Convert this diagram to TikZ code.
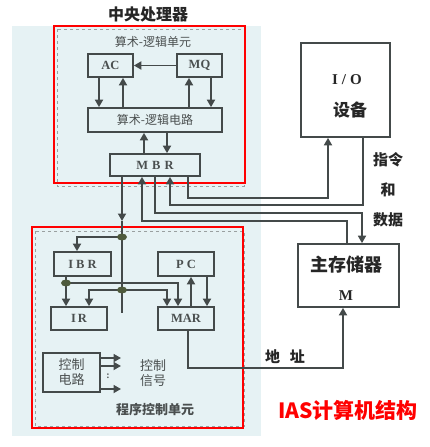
\documentclass[tikz,border=0pt]{standalone}
\usepackage{fontspec}
\setmainfont{Liberation Serif}
\newfontfamily\cjk{Noto Sans CJK SC}
\usetikzlibrary{arrows.meta,shapes.geometric}
\definecolor{lc}{HTML}{444A4A}
\definecolor{bgc}{HTML}{E6F2F4}
\definecolor{tc}{HTML}{4A4F4F}
\definecolor{dg}{HTML}{9AA0A0}
\definecolor{dotc}{HTML}{4E5A3C}
\tikzset{
  ln/.style={draw=lc, line width=1.7pt},
  arr/.style={ln, -{Triangle[length=7.5pt,width=8pt]}},
  blk/.style={draw=lc, line width=1.7pt, inner sep=0pt, text=tc, font=\bfseries\fontsize{12.5}{12.5}\selectfont},
  cn/.style={font=\cjk\fontsize{12}{14}\selectfont, text=tc, align=center},
  lab/.style={font=\cjk\bfseries\fontsize{15}{15}\selectfont, text=black!85},
  bus/.style={fill=dotc, ellipse, inner sep=0pt, minimum width=10pt, minimum height=7pt},
}
\begin{document}
\begin{tikzpicture}[x=1pt,y=-1pt]
\useasboundingbox (0,0) rectangle (430,447);
% background
\fill[bgc] (12,26) rectangle (261,436);
\node[font=\cjk\bfseries\fontsize{16}{16}\selectfont, text=black!85] (title) at (148,14) {中央处理器};
% frames
\draw[dg, dashed, line width=0.8pt] (57,29) rectangle (244,186);
\draw[dg, dashed, line width=0.8pt] (35,231) rectangle (244,426);
\draw[red, line width=2pt] (54,26) rectangle (245,183);
\draw[red, line width=2pt] (32,227) rectangle (243,428);
% arithmetic logic unit
\node[cn] (alut) at (153,42) {算术-逻辑单元};
\node[blk, minimum width=45pt, minimum height=23pt] (ac) at (110.5,65.5) {AC};
\node[blk, minimum width=45pt, minimum height=23pt] (mq) at (199.5,65.5) {MQ};
\node[blk, minimum width=134pt, minimum height=24pt, font=\cjk\fontsize{12}{12}\selectfont] (alu) at (155,120) {算术-逻辑电路};
\node[blk, minimum width=90pt, minimum height=22pt] (mbr) at (155,165) {M\hspace{4pt}B\hspace{4pt}R};
\draw[arr] (mq.west) -- (ac.east);
\draw[arr] (99,0 |- ac.south) -- (99,0 |- alu.north);
\draw[arr] (123,0 |- alu.north) -- (123,0 |- ac.south);
\draw[arr] (189,0 |- alu.north) -- (189,0 |- mq.south);
\draw[arr] (211,0 |- mq.south) -- (211,0 |- alu.north);
\draw[arr] (144,0 |- mbr.north) -- (144,0 |- alu.south);
\draw[arr] (167,0 |- alu.south) -- (167,0 |- mbr.north);
% IO and memory
\node[draw=lc, line width=1.7pt, minimum width=89pt, minimum height=94pt, inner sep=0pt] (io) at (345.5,90) {};
\node[font=\bfseries\fontsize{15}{15}\selectfont, text=black!85] (iot) at (347,80) {I\hspace{4pt}/\hspace{4pt}O};
\node[lab, font=\cjk\bfseries\fontsize{17}{17}\selectfont] (iot2) at (350,110) {设备};
\node[draw=lc, line width=1.7pt, minimum width=101pt, minimum height=63pt, inner sep=0pt] (mem) at (348.5,275.5) {};
\node[lab, font=\cjk\bfseries\fontsize{18}{18}\selectfont] (memt) at (346,265) {主存储器};
\node[font=\bfseries\fontsize{15}{15}\selectfont, text=black!85] (memm) at (346,296) {M};
\node[lab] (l1) at (388,160) {指令};
\node[lab] (l2) at (388,190) {和};
\node[lab] (l3) at (388,220) {数据};
\node[lab] (l4) at (285,357) {地\hspace{10pt}址};
% MBR connections
\draw[arr] (347,0 |- mem.north) -- (347,221) -- (142,221) -- (142,0 |- mbr.south);
\draw[arr] (155,0 |- mbr.south) -- (155,213) -- (362,213) -- (362,0 |- mem.north);
\draw[arr] (363,0 |- io.south) -- (363,205) -- (170,205) -- (170,0 |- mbr.south);
\draw[arr] (188,0 |- mbr.south) -- (188,198) -- (328,198) -- (328,0 |- io.south);
% program control unit
\node[blk, minimum width=57pt, minimum height=24pt] (ibr) at (82.5,264) {I\hspace{3pt}B\hspace{3pt}R};
\node[blk, minimum width=56pt, minimum height=24pt] (pc) at (186,264) {P\hspace{3pt}C};
\node[blk, minimum width=56pt, minimum height=23pt] (ir) at (79,318.5) {I\hspace{2pt}R};
\node[blk, minimum width=56pt, minimum height=23pt] (mar) at (186,318.5) {MAR};
\node[blk, minimum width=57pt, minimum height=39pt, font=\cjk\fontsize{13}{15}\selectfont, align=center] (ctl) at (71.5,372.5) {控制\\电路};
\node[cn, font=\cjk\fontsize{13}{15}\selectfont] (sig) at (153,373) {控制\\信号};
\node[cn, font=\cjk\bfseries\fontsize{13}{13}\selectfont] (pcu) at (155,410) {程序控制单元};
\coordinate (d1) at (122,237);
\coordinate (d2) at (66,283);
\coordinate (d3) at (122,290);
\coordinate (mbrl) at (122,221);
\draw[arr] (122,0 |- mbr.south) -- (mbrl);
\draw[ln] (mbrl) -- (d1) -- (122,313);
\draw[arr] (d1) -- (77,237) -- (77,0 |- ibr.north);
\draw[ln] (66,0 |- ibr.south) -- (d2);
\draw[arr] (d2) -- (66,0 |- ir.north);
\draw[arr] (d2) -- (178,283) -- (178,0 |- mar.north);
\draw[arr] (d3) -- (89,290) -- (89,0 |- ir.north);
\draw[arr] (d3) -- (167,290) -- (167,0 |- mar.north);
\draw[arr] (191,0 |- mar.north) -- (191,0 |- pc.south);
\draw[arr] (207,0 |- pc.south) -- (207,0 |- mar.north);
\node[bus] (b1) at (d1) {};
\node[bus] (b2) at (d2) {};
\node[bus] (b3) at (d3) {};
% memory address
\draw[arr] (188,0 |- mar.south) -- (188,368) -- (343,368) -- (343,0 |- mem.south);
% control signals
\draw[arr] (ctl.east |- 0,358) -- (121,358);
\draw[arr] (ctl.east |- 0,366) -- (121,366);
\draw[arr] (ctl.east |- 0,389) -- (121,389);
\node[font=\bfseries\fontsize{10}{10}\selectfont, text=tc] (dots) at (108,376) {:};
% caption
\node[font=\cjk\bfseries\fontsize{21}{21}\selectfont, text=red] (cap) at (348,410) {IAS计算机结构};
\end{tikzpicture}
\end{document}
